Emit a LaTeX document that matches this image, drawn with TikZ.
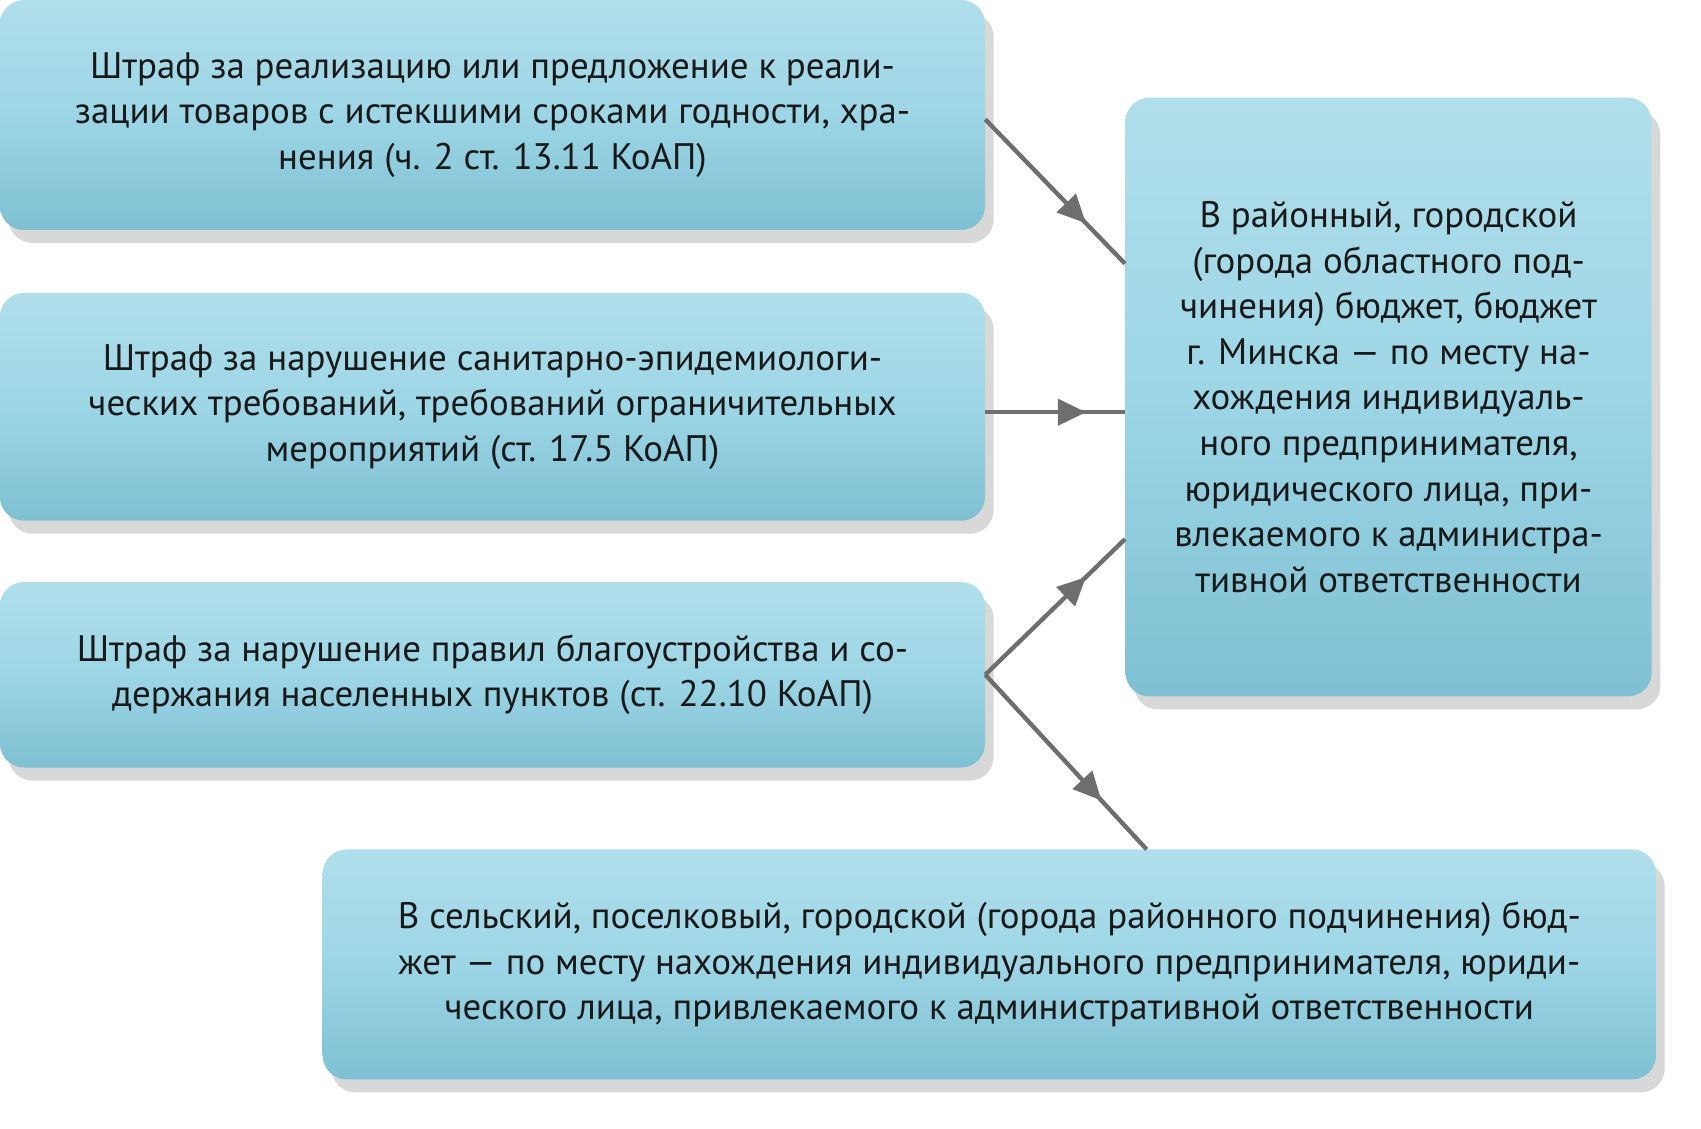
\documentclass[tikz,border=0pt]{standalone}
\usepackage{fontspec}
\setmainfont{PT Sans}
\usetikzlibrary{arrows.meta,decorations.markings,shadows}
\definecolor{boxc}{HTML}{9DD6E6}
\definecolor{boxd}{HTML}{7EC0D2}
\definecolor{arr}{HTML}{6E6E6E}
\tikzset{
 bx/.style={rounded corners=22pt,top color=boxc!80!white,bottom color=boxd,middle color=boxc,
   drop shadow={shadow xshift=8pt,shadow yshift=-12pt,opacity=0.25,fill=black!60},
   align=center,font=\fontsize{34}{42}\selectfont,text=black!90,inner sep=0pt},
 conn/.style={draw=arr,line width=4pt,postaction={decorate},
   decoration={markings,mark=at position 0.72 with {\arrow{Triangle[length=26pt,width=24pt]}}}}
}
\begin{document}
\begin{tikzpicture}[x=1pt,y=-1pt]
\useasboundingbox (0,0) rectangle (1568,1040);
\fill[white] (0,0) rectangle (1568,1040);
\node[bx,minimum width=908pt,minimum height=212pt] (a) at (454,106)
 {Штраф за реализацию или предложение к реали-\\зации товаров с истекшими сроками годности, хра-\\нения (ч. 2 ст. 13.11 КоАП)};
\node[bx,minimum width=908pt,minimum height=210pt] (b) at (454,375)
 {Штраф за нарушение санитарно-эпидемиологи-\\ческих требований, требований ограничительных\\мероприятий (ст. 17.5 КоАП)};
\node[bx,minimum width=908pt,minimum height=171pt] (c) at (454,622)
 {Штраф за нарушение правил благоустройства и со-\\держания населенных пунктов (ст. 22.10 КоАП)};
\node[bx,minimum width=485pt,minimum height=552pt] (d) at (1280,366)
 {В районный, городской\\(города областного под-\\чинения) бюджет, бюджет\\г. Минска — по месту на-\\хождения индивидуаль-\\ного предпринимателя,\\юридического лица, при-\\влекаемого к администра-\\тивной ответственности};
\node[bx,minimum width=1229pt,minimum height=212pt] (e) at (912,889)
 {В сельский, поселковый, городской (города районного подчинения) бюд-\\жет — по месту нахождения индивидуального предпринимателя, юриди-\\ческого лица, привлекаемого к административной ответственности};
\coordinate (d1) at (1037,243);
\coordinate (d3) at (1037,497);
\coordinate (e1) at (1057,783);
\path[conn] (a.east |- 0,110) -- (d1);
\path[conn] (b.east |- 0,380) -- (d.west |- 0,380);
\path[conn] (c.east) -- (d3);
\path[conn] (c.east) -- (e1);
\end{tikzpicture}
\end{document}
